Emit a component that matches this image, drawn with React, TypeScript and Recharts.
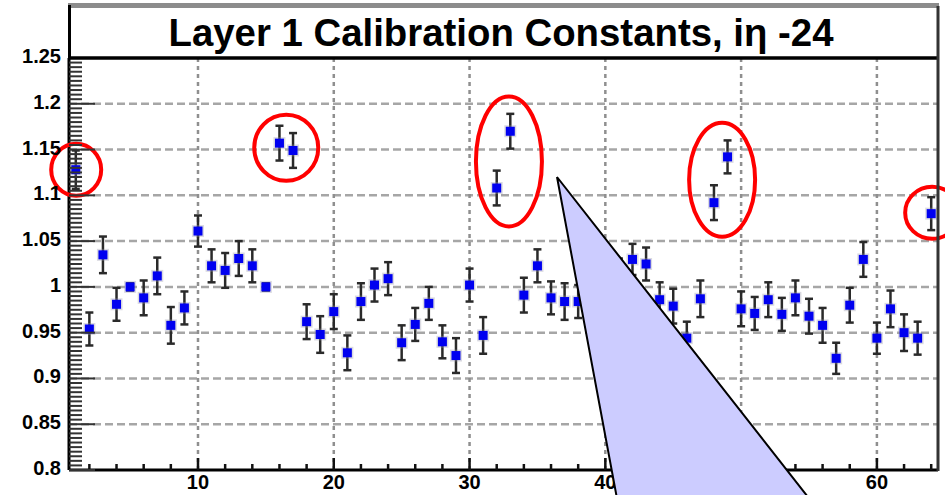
import React from "react";
import {
  ComposedChart,
  Scatter,
  ErrorBar,
  XAxis,
  YAxis,
  ReferenceLine,
  ReferenceDot,
} from "recharts";

// calibration constant per channel (channels 1..64)
const calibration = [
  1.128, 0.954, 1.035, 0.981, 1.0, 0.988, 1.012, 0.958, 0.977, 1.061,
  1.023, 1.018, 1.031, 1.023, 1.0, 1.157, 1.149, 0.962, 0.948, 0.973,
  0.928, 0.984, 1.002, 1.009, 0.939, 0.959, 0.982, 0.94, 0.925, 1.002,
  0.947, 1.108, 1.17, 0.991, 1.023, 0.988, 0.984, 0.984, 0.975, 1.0,
  1.012, 1.03, 1.025, 0.986, 0.979, 0.944, 0.987, 1.092, 1.142, 0.976,
  0.971, 0.986, 0.97, 0.988, 0.968, 0.958, 0.922, 0.98, 1.03, 0.944,
  0.976, 0.95, 0.944, 1.08,
];

const calibrationErr = [
  0.021, 0.018, 0.02, 0.018, 0.004, 0.019, 0.02, 0.02, 0.018, 0.017,
  0.018, 0.019, 0.019, 0.018, 0.004, 0.019, 0.019, 0.019, 0.02, 0.019,
  0.019, 0.02, 0.018, 0.018, 0.019, 0.018, 0.018, 0.018, 0.019, 0.018,
  0.02, 0.019, 0.019, 0.019, 0.018, 0.018, 0.02, 0.018, 0.019, 0.019,
  0.019, 0.017, 0.018, 0.019, 0.019, 0.018, 0.02, 0.019, 0.018, 0.019,
  0.018, 0.019, 0.018, 0.019, 0.019, 0.019, 0.017, 0.019, 0.019, 0.017,
  0.02, 0.02, 0.018, 0.018,
];

const yMajorTicks = [0.8, 0.85, 0.9, 0.95, 1, 1.05, 1.1, 1.15, 1.2, 1.25];
const xMajorTicks = [10, 20, 30, 40, 50, 60];
const yGridLines = [0.85, 0.9, 0.95, 1, 1.05, 1.1, 1.15, 1.2];

const title = "Layer 1 Calibration Constants, iη -24";

// red rings drawn around the outlying channels
const outlierRings = [
  { x: 1.03, y: 1.128, rx: 25, ry: 26 },
  { x: 16.5, y: 1.152, rx: 32, ry: 33 },
  { x: 32.9, y: 1.137, rx: 33, ry: 65 },
  { x: 48.6, y: 1.117, rx: 33, ry: 57 },
  { x: 64.07, y: 1.081, rx: 27, ry: 26 },
];

const points = calibration.map((v, i) => ({
  channel: i + 1,
  value: v,
  err: calibrationErr[i],
}));

// ROOT-style tick marks: x every 2 channels, y every 0.005
const xTicks: number[] = [];
for (let c = 2; c <= 64; c += 2) xTicks.push(c);
const yTicks: number[] = [];
for (let i = 0; i <= 90; i++) yTicks.push(+(0.8 + i * 0.005).toFixed(3));

const FONT = "'Liberation Sans', Arial, Helvetica, sans-serif";

function YTick(props: any) {
  const { x, y, payload } = props;
  const major = yMajorTicks.find((t) => Math.abs(t - payload.value) < 1e-6);
  const len = major !== undefined ? 26 : 13;
  return (
    <g>
      <line x1={x} x2={x + len} y1={y} y2={y} stroke="#333" strokeWidth={2} />
      {major !== undefined && (
        <text
          x={x - 8}
          y={y + 5}
          textAnchor="end"
          fontFamily={FONT}
          fontWeight="bold"
          fontSize={20}
          fill="#000"
        >
          {String(major)}
        </text>
      )}
    </g>
  );
}

function XTick(props: any) {
  const { x, y, payload } = props;
  const major = xMajorTicks.includes(payload.value);
  const len = major ? 12 : 6;
  return (
    <g>
      <line x1={x} x2={x} y1={y} y2={y - len} stroke="#111" strokeWidth={2.5} />
      {major && (
        <text
          x={x}
          y={y + 19}
          textAnchor="middle"
          fontFamily={FONT}
          fontWeight="bold"
          fontSize={20}
          fill="#000"
        >
          {payload.value}
        </text>
      )}
    </g>
  );
}

// filled square with a soft grey rim, like the ROOT marker 21
function SquareMarker(props: any) {
  const { cx, cy } = props;
  if (cx == null || cy == null) return null;
  return (
    <g>
      <rect x={cx - 6} y={cy - 6} width={12} height={12} fill="rgba(150,150,170,0.35)" />
      <rect x={cx - 4.5} y={cy - 4.5} width={9} height={9} fill="#0000f0" />
    </g>
  );
}

export default function App() {
  return (
    <div
      style={{
        position: "absolute",
        left: 0,
        top: 0,
        width: 945,
        height: 495,
        overflow: "hidden",
        background: "#fff",
      }}
    >
      <ComposedChart
        width={945}
        height={495}
        data={points}
        margin={{ top: 58, right: 7, bottom: 0, left: 0 }}
      >
        <XAxis
          dataKey="channel"
          type="number"
          domain={[0.5, 64.5]}
          ticks={xTicks}
          interval={0}
          height={25}
          tickSize={0}
          tickMargin={0}
          tickLine={false}
          tick={<XTick />}
          axisLine={{ stroke: "#000", strokeWidth: 3 }}
          allowDataOverflow
        />
        <YAxis
          type="number"
          domain={[0.8, 1.25]}
          ticks={yTicks}
          interval={0}
          width={69}
          tickSize={0}
          tickMargin={0}
          tickLine={false}
          tick={<YTick />}
          axisLine={{ stroke: "#000", strokeWidth: 3 }}
          allowDataOverflow
        />
        {yGridLines.map((v) => (
          <ReferenceLine
            key={`h-${v}`}
            y={v}
            stroke="#a6a6a6"
            strokeWidth={2.5}
            strokeDasharray="8 4"
          />
        ))}
        {xMajorTicks.map((v) => (
          <ReferenceLine
            key={`v-${v}`}
            x={v}
            stroke="#8f8f8f"
            strokeWidth={2.5}
            strokeDasharray="4 4"
          />
        ))}
        <Scatter
          dataKey="value"
          fill="#0000f0"
          shape={<SquareMarker />}
          isAnimationActive={false}
        >
          <ErrorBar
            dataKey="err"
            direction="y"
            width={4}
            stroke="#2a2a2a"
            strokeWidth={2.5}
            isAnimationActive={false}
          />
        </Scatter>
        {outlierRings.map((r, i) => (
          <ReferenceDot
            key={`ring-${i}`}
            x={r.x}
            y={r.y}
            ifOverflow="visible"
            shape={(p: any) => (
              <ellipse
                cx={p.cx}
                cy={p.cy}
                rx={r.rx}
                ry={r.ry}
                fill="none"
                stroke="#f00"
                strokeWidth={4}
              />
            )}
          />
        ))}
      </ComposedChart>

      {/* title pad, frame and the callout pointer */}
      <svg
        width={945}
        height={495}
        style={{ position: "absolute", left: 0, top: 0, pointerEvents: "none" }}
      >
        <rect x={68} y={3} width={871} height={5} fill="#8c8c8c" />
        <line x1={69.5} y1={5} x2={69.5} y2={59} stroke="#000" strokeWidth={3} />
        <line x1={68} y1={58} x2={939} y2={58} stroke="#000" strokeWidth={3.5} />
        <line x1={938} y1={6} x2={938} y2={471} stroke="#333" strokeWidth={3} />
        <text
          x={501}
          y={46}
          textAnchor="middle"
          fontFamily={FONT}
          fontWeight="bold"
          fontSize={39}
          textLength={665}
          lengthAdjust="spacingAndGlyphs"
          fill="#000"
        >
          {title}
        </text>
        <polygon
          points="557,177 621,520 826,520"
          fill="#ccccff"
          stroke="#000"
          strokeWidth={2}
        />
      </svg>
    </div>
  );
}
